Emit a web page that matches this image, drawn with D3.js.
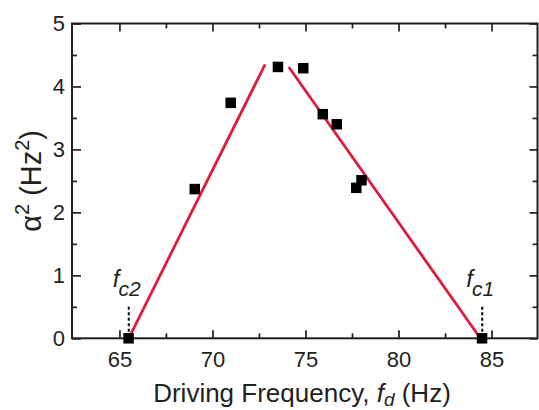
<!DOCTYPE html>
<html>
<head>
<meta charset="utf-8">
<script src="https://cdn.jsdelivr.net/npm/d3@7"></script>
<style>
  html, body { margin: 0; padding: 0; background: #fff; }
  svg { display: block; font-family: "Liberation Sans", Arial, Helvetica, sans-serif; }
</style>
</head>
<body>
<svg id="chart" width="539" height="410"></svg>
<script>
// ---- data ----
const freqs  = [65.49, 69.05, 70.98, 73.52, 74.88, 75.93, 76.68, 77.73, 78.01, 84.49];
const alpha2 = [0.00, 2.37, 3.74, 4.31, 4.29, 3.56, 3.40, 2.39, 2.51, 0.00];
const fitLeft  = [[65.5, 0], [72.83, 4.35]];
const fitRight = [[74.1, 4.31], [84.4, 0]];
const xTicks = [65, 70, 75, 80, 85];
const yTicks = [0, 1, 2, 3, 4, 5];
const criticalNames = ["c2", "c1"];
const criticalFreqs = [65.5, 84.5];

// ---- layout ----
const svg = d3.select("#chart");
const L = 72, R = 537.5, T = 23.5, B = 338.3;
const x = d3.scaleLinear().domain([62.45, 87.47]).range([L, R]);
const y = d3.scaleLinear().domain([0, 5]).range([B, T]);
const axisColor = "#231f20";
const textColor = "#231f20";

const xMinor = d3.range(62.5, 87.5 + 0.001, 2.5).filter(v => !xTicks.includes(v) && x(v) > L + 1 && x(v) < R - 1);
const yMinor = d3.range(0.5, 5, 1);

function styleAxis(g) {
  g.select(".domain").remove();
  g.selectAll("line").attr("stroke", axisColor).attr("stroke-width", 1.7);
  g.selectAll("text").attr("fill", textColor).style("font-size", "22px");
}

// bottom axis
const gB = svg.append("g").attr("transform", `translate(0,${B})`);
gB.call(d3.axisBottom(x).tickValues(xTicks).tickSizeInner(-8).tickSizeOuter(0).tickFormat(d3.format("d")));
styleAxis(gB);
gB.selectAll("text").attr("dy", "0.71em").attr("y", 13);
const gBm = svg.append("g").attr("transform", `translate(0,${B})`);
gBm.call(d3.axisBottom(x).tickValues(xMinor).tickSizeInner(-5).tickSizeOuter(0).tickFormat(""));
styleAxis(gBm);

// top axis
const gT = svg.append("g").attr("transform", `translate(0,${T})`);
gT.call(d3.axisTop(x).tickValues(xTicks).tickSizeInner(-8).tickSizeOuter(0).tickFormat(""));
styleAxis(gT);
const gTm = svg.append("g").attr("transform", `translate(0,${T})`);
gTm.call(d3.axisTop(x).tickValues(xMinor).tickSizeInner(-5).tickSizeOuter(0).tickFormat(""));
styleAxis(gTm);

// left axis
const gL = svg.append("g").attr("transform", `translate(${L},0)`);
gL.call(d3.axisLeft(y).tickValues(yTicks).tickSizeInner(-9).tickSizeOuter(0).tickFormat(d3.format("d")));
styleAxis(gL);
gL.selectAll("text").attr("x", -7);
const gLm = svg.append("g").attr("transform", `translate(${L},0)`);
gLm.call(d3.axisLeft(y).tickValues(yMinor).tickSizeInner(-5).tickSizeOuter(0).tickFormat(""));
styleAxis(gLm);

// right axis
const gR = svg.append("g").attr("transform", `translate(${R},0)`);
gR.call(d3.axisRight(y).tickValues(yTicks).tickSizeInner(-8).tickSizeOuter(0).tickFormat(""));
styleAxis(gR);
const gRm = svg.append("g").attr("transform", `translate(${R},0)`);
gRm.call(d3.axisRight(y).tickValues(yMinor).tickSizeInner(-5).tickSizeOuter(0).tickFormat(""));
styleAxis(gRm);

// frame
svg.append("rect").attr("x", L).attr("y", T).attr("width", R - L).attr("height", B - T)
  .attr("fill", "none").attr("stroke", axisColor).attr("stroke-width", 2);

// fit lines
const line = d3.line().x(d => x(d[0])).y(d => y(d[1]));
[fitLeft, fitRight].forEach(seg => {
  svg.append("path").attr("d", line(seg)).attr("fill", "none")
    .attr("stroke", "#dc1e3c").attr("stroke-width", 2.8);
});

// critical frequency markers
criticalFreqs.forEach((f, i) => {
  svg.append("line")
    .attr("x1", x(f)).attr("x2", x(f))
    .attr("y1", y(0.5)).attr("y2", y(0.1))
    .attr("stroke", "#000").attr("stroke-width", 2).attr("stroke-dasharray", "3,2.5");
  const t = svg.append("text")
    .attr("x", x(f) - 16).attr("y", y(0.81))
    .attr("fill", textColor).style("font-style", "italic").style("font-size", "24px");
  t.append("tspan").text("f");
  t.append("tspan").attr("dy", 9).attr("dx", -1).style("font-size", "21px").text(criticalNames[i]);
});

// data squares
const sz = 10.5;
svg.append("g").selectAll("rect").data(freqs).join("rect")
  .attr("x", (d) => x(d) - sz / 2)
  .attr("y", (d, i) => y(alpha2[i]) - sz / 2)
  .attr("width", sz).attr("height", sz).attr("fill", "#000");

// x title
const xt = svg.append("text")
  .attr("x", 302).attr("y", 402).attr("text-anchor", "middle")
  .attr("fill", textColor).style("font-size", "26px");
xt.append("tspan").text("Driving Frequency, ");
xt.append("tspan").style("font-style", "italic").text("f");
xt.append("tspan").style("font-style", "italic").style("font-size", "19px").attr("dy", 4).text("d");
xt.append("tspan").attr("dy", -4).text(" (Hz)");

// y title
const yt = svg.append("text")
  .attr("transform", `translate(41,${(T + B) / 2}) rotate(-90)`)
  .attr("text-anchor", "middle").attr("fill", textColor).style("font-size", "29px");
yt.append("tspan").text("\u03B1");
yt.append("tspan").style("font-size", "20px").attr("dy", -12).text("2");
yt.append("tspan").attr("dy", 12).text(" (Hz");
yt.append("tspan").style("font-size", "20px").attr("dy", -12).text("2");
yt.append("tspan").attr("dy", 12).text(")");
</script>
</body>
</html>
